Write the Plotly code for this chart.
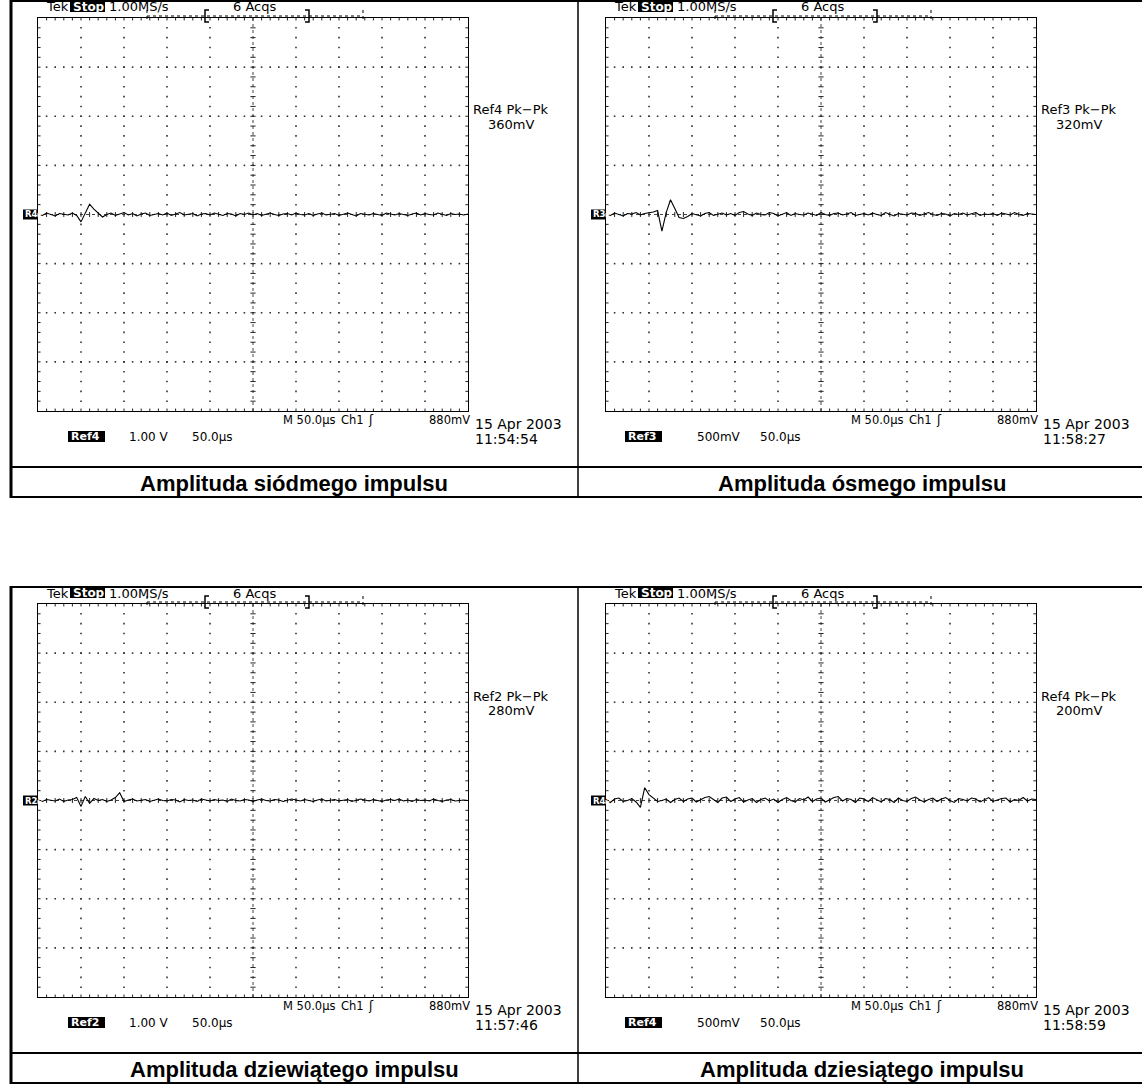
import plotly.graph_objects as go
import numpy as np

# ---------------- data ----------------
t_us = list(range(0, 501, 5))  # time axis, 50 us/div, 10 div

ref4_a_mV = [
    10, -20, 30, 0, -30, 20, 10, -10, 30, -20,
    -150, 40, 210, 110, 20, -50, 0, 30, -20, 10,
    40, -10, 20, -30, 10, 30, -20, 0, 20, -10,
    30, -20, 10, 40, -10, 0, 20, -30, 10, 20,
    -10, 30, 0, -20, 20, 10, -30, 20, 0, 30,
    -10, 20, -20, 10, 30, 0, -20, 10, 20, -10,
    30, 0, -10, 20, -20, 10, 30, -10, 0, 20,
    -20, 10, 30, 0, -30, 20, 10, -10, 20, 0,
    -20, 30, 10, -10, 20, 0, -20, 10, 30, -10,
    20, 0, -10, 30, 10, -20, 20, 0, 10, -10,
    10]

ref3_mV = [
    5, -10, 15, 0, -15, 10, 5, 20, -5, 10,
    15, 25, 40, -170, 20, 150, 60, -30, -40, -20,
    10, 0, -15, 10, 20, -10, 5, 15, -5, 10,
    -10, 20, 30, 5, -10, 15, 0, -5, 20, 10,
    -15, 5, 20, -10, 10, 0, -5, 15, 5, -10,
    20, 0, -10, 10, 15, -5, 5, 20, -10, 0,
    10, -5, 15, 0, -10, 20, 5, -15, 10, 0,
    -5, 15, 10, -10, 5, 20, 0, -10, 10, 5,
    -15, 10, 0, 15, -5, 10, 20, -10, 5, 0,
    10, -10, 15, 5, -5, 20, 0, -10, 10, 5,
    0]

ref2_mV = [
    10, -20, 20, 0, -10, 30, -20, 10, 20, 60,
    -120, 80, -60, 40, 0, 20, -20, 10, 60, 160,
    -20, 10, 30, -10, 0, 20, -20, 10, 30, 0,
    -10, 20, 10, -30, 20, 0, 10, -20, 30, 10,
    -10, 20, 0, 10, -20, 30, 0, -10, 20, 10,
    -20, 10, 30, 0, -10, 20, 10, -20, 0, 30,
    10, -10, 20, 0, -20, 10, 30, -10, 0, 20,
    -10, 10, 20, -20, 0, 30, 10, -10, 20, 0,
    -20, 10, 20, 0, 30, -10, 10, -20, 20, 0,
    10, -10, 30, 0, -20, 10, 20, -10, 0, 10,
    0]

ref4_b_mV = [
    10, -20, 15, 25, -10, 0, 20, -15, -70, 130,
    60, 20, -10, 0, 15, -20, 10, 25, -10, 15,
    25, -15, 5, 30, 40, 10, -20, 25, 35, -10,
    15, 30, -15, 5, 20, -20, 10, 25, -5, 15,
    -20, 10, 30, 0, -15, 20, 5, 35, -10, 15,
    25, -15, 10, 30, 40, -5, 20, 10, -20, 25,
    15, -10, 30, 5, -15, 20, 10, -20, 25, 0,
    -10, 20, 35, 5, -15, 10, 25, -10, 15, 30,
    0, -20, 20, 10, -5, 25, 15, -15, 10, 30,
    -10, 5, 20, 25, -15, 10, 0, 30, -5, 15,
    10]

ref_names = ["Ref4", "Ref3", "Ref2", "Ref4"]
marker_labels = ["R4", "R3", "R2", "R4"]
volts_per_div_mV = [1000, 500, 1000, 500]
volts_labels = ["1.00 V", "500mV", "1.00 V", "500mV"]
pkpk_labels = ["360mV", "320mV", "280mV", "200mV"]
time_labels = ["11:54:54", "11:58:27", "11:57:46", "11:58:59"]
captions = ["Amplituda siódmego impulsu", "Amplituda ósmego impulsu",
            "Amplituda dziewiątego impulsu", "Amplituda dziesiątego impulsu"]
traces = [ref4_a_mV, ref3_mV, ref2_mV, ref4_b_mV]

# ---------------- layout helpers ----------------
W, H = 1142, 1084
SCOPE_FONT = "DejaVu Sans"
CAP_FONT = "Liberation Sans"


def X(px):
    return px / W


def Y(py):
    return 1 - py / H


fig = go.Figure()
shapes = []
annots = []


def txt(x, y, s, size=12, anchor="left", color="black", family=SCOPE_FONT, bold=False):
    annots.append(dict(x=X(x), y=Y(y), xref="paper", yref="paper", text=s,
                       showarrow=False, xanchor=anchor, yanchor="middle",
                       font=dict(family=family, size=size, color=color,
                                 weight="bold" if bold else "normal")))


def line(x0, y0, x1, y1, w=1, dash="solid"):
    shapes.append(dict(type="line", xref="paper", yref="paper",
                       x0=X(x0), y0=Y(y0), x1=X(x1), y1=Y(y1),
                       line=dict(color="black", width=w, dash=dash)))


def rect(x0, y0, x1, y1):
    shapes.append(dict(type="rect", xref="paper", yref="paper",
                       x0=X(x0), y0=Y(y0), x1=X(x1), y1=Y(y1),
                       fillcolor="black", line=dict(width=0)))


def path(pts, w=1.5):
    d = "M " + " L ".join(f"{X(a)} {Y(b)}" for a, b in pts)
    shapes.append(dict(type="path", xref="paper", yref="paper", path=d,
                       line=dict(color="black", width=w)))


# graticule geometry (pixels, for the top-left panel)
GX0, GX1, GY0, GY1 = 38, 468, 18, 411
offsets = [(0, 0), (568, 0), (0, 586), (568, 586)]
ref_box_x = [68, 57, 68, 57]

for i in range(4):
    ox, oy = offsets[i]
    vdiv = volts_per_div_mV[i]
    n = i + 1
    xa = "x" if n == 1 else f"x{n}"
    ya = "y" if n == 1 else f"y{n}"
    axis_common = dict(showgrid=False, zeroline=False, showticklabels=False,
                       ticks="", showline=True, mirror=True, linecolor="black",
                       linewidth=1, fixedrange=True)
    fig.layout[f"xaxis{'' if n == 1 else n}"] = dict(
        domain=[X(GX0 + ox), X(GX1 + ox)], range=[0, 500], anchor=ya, **axis_common)
    fig.layout[f"yaxis{'' if n == 1 else n}"] = dict(
        domain=[Y(GY1 + oy), Y(GY0 + oy)], range=[-4 * vdiv, 4 * vdiv], anchor=xa,
        **axis_common)

    # --- graticule dots ---
    dx, dy = [], []
    fine = np.round(np.arange(0.2, 8.0, 0.2) - 4, 6)
    for k in [1, 2, 3, 4, 6, 7, 8, 9]:
        for f in fine:
            dx.append(k * 50)
            dy.append(f * vdiv)
    finex = np.round(np.arange(0.2, 10.0, 0.2), 6)
    for j in [-3, -2, -1, 1, 2, 3]:
        for f in finex:
            dx.append(f * 50)
            dy.append(j * vdiv)
    fig.add_trace(go.Scatter(x=dx, y=dy, mode="markers", xaxis=xa, yaxis=ya,
                             marker=dict(color="#333333", size=1.6, symbol="square",
                                         line=dict(width=0)),
                             hoverinfo="skip", showlegend=False))
    # --- centre lines + ticks, border ticks ---
    tx, ty = [], []
    fig.add_trace(go.Scatter(x=[250, 250, None, 0, 500], y=[-4 * vdiv, 4 * vdiv, None, 0, 0],
                             mode="lines", xaxis=xa, yaxis=ya,
                             line=dict(color="#444444", width=1, dash="dot"),
                             hoverinfo="skip", showlegend=False))
    for f in np.round(np.arange(0.2, 8.0, 0.2) - 4, 6):
        tx += [250 - 0.06 * 50, 250 + 0.06 * 50, None]
        ty += [f * vdiv, f * vdiv, None]
        tx += [0, 0.06 * 50, None, 500, 500 - 0.06 * 50, None]
        ty += [f * vdiv, f * vdiv, None, f * vdiv, f * vdiv, None]
    for f in np.round(np.arange(0.2, 10.0, 0.2), 6):
        tx += [f * 50, f * 50, None]
        ty += [-0.05 * vdiv, 0.05 * vdiv, None]
        tx += [f * 50, f * 50, None, f * 50, f * 50, None]
        ty += [4 * vdiv, (4 - 0.05) * vdiv, None, -4 * vdiv, (-4 + 0.05) * vdiv, None]
    fig.add_trace(go.Scatter(x=tx, y=ty, mode="lines", xaxis=xa, yaxis=ya,
                             line=dict(color="#222222", width=1),
                             hoverinfo="skip", showlegend=False))

    # --- waveform ---
    fig.add_trace(go.Scatter(x=t_us, y=traces[i], mode="lines", xaxis=xa, yaxis=ya,
                             line=dict(color="black", width=1.1),
                             hoverinfo="skip", showlegend=False))

    # --- header texts ---
    txt(44 + ox, 7 + oy, "Tek", 13)
    rect(70 + ox, 2 + oy, 105 + ox, 12 + oy)
    txt(71 + ox, 7 + oy, "Stop:", 12, color="white", bold=True)
    txt(107 + ox, 7 + oy, "1.00MS/s", 13)
    txt(231 + ox, 7 + oy, "6 Acqs", 13)
    # record-window bracket
    line(147 + ox, 16 + oy, 363 + ox, 16 + oy, 1, "dot")
    line(147 + ox, 10 + oy, 147 + ox, 22 + oy, 1, "dot")
    line(363 + ox, 10 + oy, 363 + ox, 22 + oy, 1, "dot")
    path([(209 + ox, 10 + oy), (205 + ox, 10 + oy), (205 + ox, 22 + oy), (209 + ox, 22 + oy)])
    path([(305 + ox, 10 + oy), (309 + ox, 10 + oy), (309 + ox, 22 + oy), (305 + ox, 22 + oy)])

    # measurement
    txt(511 + ox, 110 + oy, f"{ref_names[i]} Pk−Pk", 13, anchor="center")
    txt(511 + ox, 124 + oy, pkpk_labels[i], 13, anchor="center")

    # reference marker
    ymid = (GY0 + GY1) / 2 + oy
    rect(23 + ox, ymid - 5, 38 + ox, ymid + 5)
    txt(23 + ox, ymid, marker_labels[i] + "▸", 8.5, color="white", bold=True)

    # bottom status line
    txt(281 + ox, 420 + oy, "M 50.0µs", 11.5)
    txt(339 + ox, 420 + oy, "Ch1", 11.5)
    txt(366 + ox, 420 + oy, "ʃ", 12)
    txt(427 + ox, 420 + oy, "880mV", 11.5)
    txt(473 + ox, 424 + oy, "15 Apr 2003", 14)
    txt(473 + ox, 439 + oy, time_labels[i], 14)
    bx = ref_box_x[i]
    rect(bx + ox, 431 + oy, bx + 37 + ox, 442 + oy)
    txt(bx + 1 + ox, 436 + oy, ref_names[i], 11, color="white", bold=True)
    txt(127 + ox, 437 + oy, volts_labels[i], 12)
    txt(190 + ox, 437 + oy, "50.0µs", 12)

    # caption
    txt(294 + ox, 483 + oy, captions[i], 22, anchor="center", family=CAP_FONT, bold=True)

# table borders
for oy in [0, 586]:
    line(10, 1 + oy, 1142, 1 + oy, 2)
    line(11, oy, 11, 498 + oy, 3)
    line(578, oy, 578, 498 + oy, 1.5)
    line(10, 467 + oy, 1142, 467 + oy, 2)
    line(10, 497 + oy, 1142, 497 + oy, 2)

fig.update_layout(width=W, height=H, margin=dict(l=0, r=0, t=0, b=0),
                  paper_bgcolor="white", plot_bgcolor="white",
                  shapes=shapes, annotations=annots, showlegend=False)
fig.write_html("out.html", config={"displayModeBar": False},
               post_script="document.body.style.margin='0px';document.body.style.overflow='hidden';")
